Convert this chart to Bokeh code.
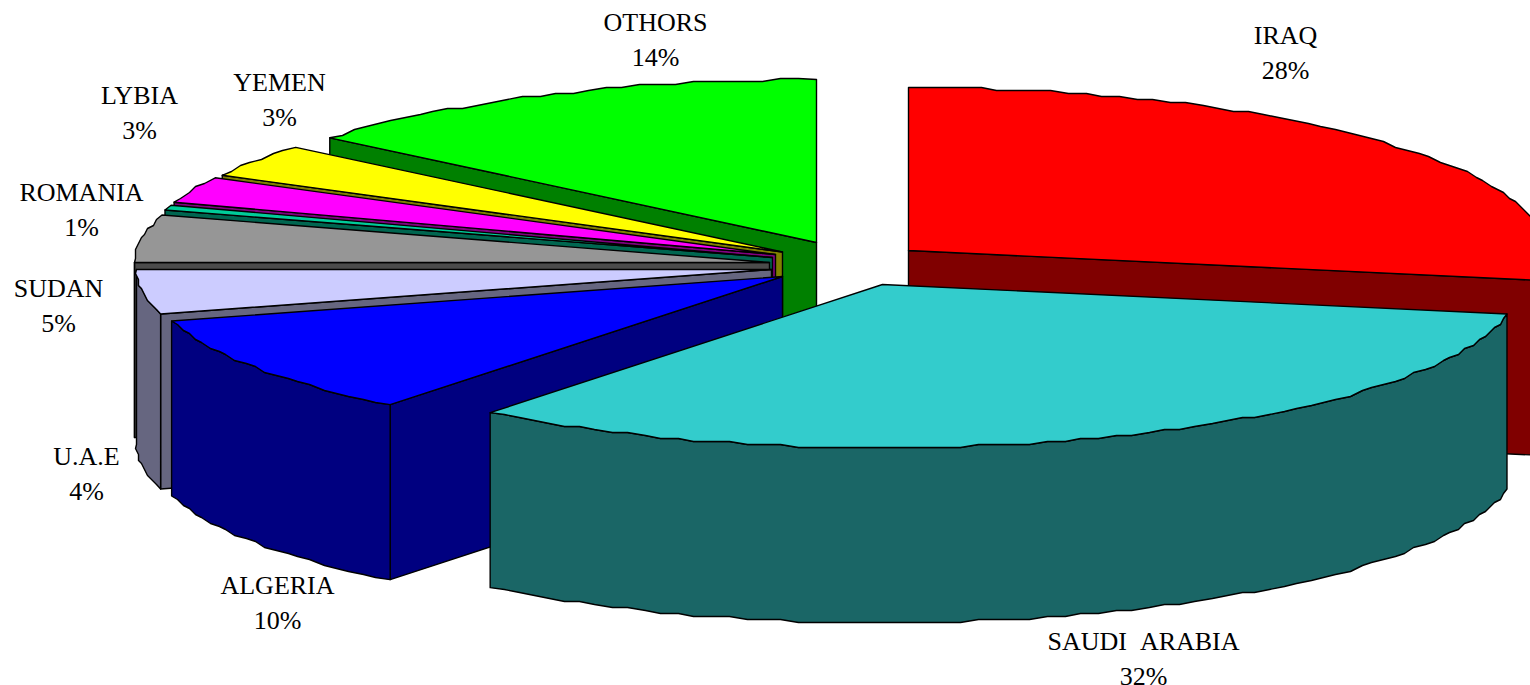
import math
from bokeh.plotting import figure
from bokeh.embed import file_html
from bokeh.resources import INLINE
from bokeh.core.properties import value
from bokeh.models import ColumnDataSource

# Data (clockwise from 12 o'clock)
countries = ["IRAQ", "SAUDI\u00a0\u00a0ARABIA", "ALGERIA", "U.A.E", "SUDAN", "ROMANIA", "LYBIA", "YEMEN", "OTHORS"]
shares = [27.9, 32.7, 10.0, 4.4, 4.7, 0.5, 2.6, 3.3, 13.9]
percent_labels = ["28%", "32%", "10%", "4%", "5%", "1%", "3%", "3%", "14%"]

# Style
top_colors = ["#FF0000", "#33CCCC", "#0000FF", "#CCCCFF", "#969696", "#00CC99", "#FF00FF", "#FFFF00", "#00FF00"]
side_colors = ["#800000", "#1A6666", "#000080", "#666680", "#4B4B4B", "#006650", "#800080", "#808000", "#008000"]

# Layout (picture pixels)
W, H = 1530, 685
RX, RY, DEPTH = 635, 163, 175
apex_x = [908, 882, 782, 771, 769, 772, 775, 782, 816]
apex_y = [250, 284, 276, 269, 262, 257, 254, 251.5, 242]
label_x = [1285, 1143, 277, 86, 58, 81, 139, 279, 655]
label_y = [35, 641, 585, 456, 288, 192, 95, 82, 22]
LINE_GAP = 35
FONT = "Liberation Serif"
FONT_SIZE = "26px"
SNAP = 3.0
STEP_DEG = 1.6
draw_order = [8, 7, 6, 5, 4, 3, 2, 0, 1]

p = figure(width=W, height=H, x_range=(0, W), y_range=(H, 0),
           toolbar_location=None, output_backend="svg", min_border=0, outline_line_color=None,
           background_fill_color="white", border_fill_color="white")
p.axis.visible = False
p.grid.visible = False


def rim(cx, cy, deg):
    t = math.radians(deg)
    return cx + RX * math.sin(t), cy - RY * math.cos(t)


def arc(cx, cy, a, b):
    n = max(2, int(abs(b - a) / STEP_DEG) + 1)
    pts = [rim(cx, cy, a + (b - a) * i / (n - 1)) for i in range(n)]
    # the original outline is stepped: snap inner rim points to a coarse grid
    out = [pts[0]]
    for q in pts[1:-1]:
        out.append((round(q[0] / SNAP) * SNAP, round(q[1] / SNAP) * SNAP))
    out.append(pts[-1])
    return [q[0] for q in out], [q[1] for q in out]


def poly(xs, ys, color):
    p.patch(xs, ys, fill_color=color, line_color="black", line_width=1.4, line_join="round")


total = sum(shares)
bounds = [0.0]
for v in shares:
    bounds.append(bounds[-1] + v / total * 360.0)

for i in draw_order:
    a, b = bounds[i], bounds[i + 1]
    cx, cy = apex_x[i], apex_y[i]
    # cut walls that face the viewer
    if a > 180:
        ex, ey = rim(cx, cy, a)
        poly([cx, ex, ex, cx], [cy, ey, ey + DEPTH, cy + DEPTH], side_colors[i])
    if b < 180:
        ex, ey = rim(cx, cy, b)
        poly([cx, ex, ex, cx], [cy, ey, ey + DEPTH, cy + DEPTH], side_colors[i])
    # outer wall (front half of the rim)
    lo, hi = max(a, 90), min(b, 270)
    if hi > lo:
        xs, ys = arc(cx, cy, lo, hi)
        poly(xs + xs[::-1], ys + [y + DEPTH for y in ys[::-1]], side_colors[i])
    # top face
    xs, ys = arc(cx, cy, a, b)
    poly([cx] + xs, [cy] + ys, top_colors[i])

names = ColumnDataSource(dict(x=label_x, y=label_y, t=countries))
pcts = ColumnDataSource(dict(x=label_x, y=[y + LINE_GAP for y in label_y], t=percent_labels))
for src in (names, pcts):
    p.text("x", "y", text="t", source=src, text_font=value(FONT), text_font_size=value(FONT_SIZE),
           text_align="center", text_baseline="middle", text_color="black")

open("out.html", "w").write(file_html(p, INLINE))
